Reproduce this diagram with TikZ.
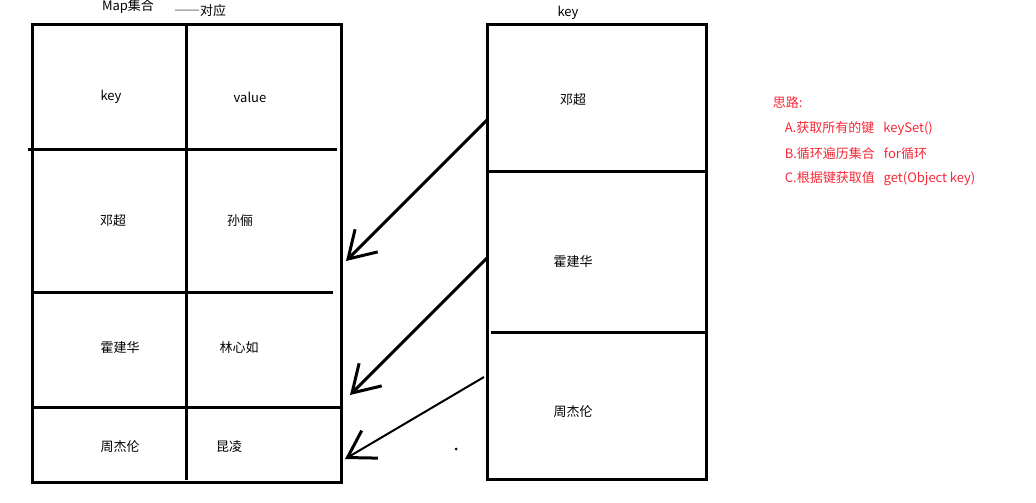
\documentclass[tikz,border=0pt]{standalone}
\usepackage{fontspec}
\setmainfont{Noto Sans CJK SC}
\newfontfamily\fullwidth[RawFeature=+fwid]{Noto Sans CJK SC}
\usepackage{tikz}
\usetikzlibrary{arrows.meta}
\definecolor{notered}{RGB}{245,40,55}

\begin{document}
\begin{tikzpicture}[x=1pt, y=-1pt, line width=3pt,
  cell/.style={font=\fontsize{13}{15}\selectfont},
  note/.style={anchor=west, text=notered, font=\fontsize{13}{15}\selectfont},
  maparrow/.style={-{Straight Barb[length=26pt, width=32pt, line width=3pt]}}]

% one unit = one pixel of the 1036x503 sketch, y runs downwards
\useasboundingbox (0,0) rectangle (1036,503);

%% ── left table: the Map ──────────────────────────────────────────
\draw (32,25) rectangle (341,482);
\draw (186,25) -- (186,480);
\draw (28,149) -- (337,149);
\draw (32,292) -- (333,292);
\draw (32,407) -- (341,407);

\node[cell] (maptitle) at (128,7) {Map集合};
\node[cell] (pairnote) at (200,11) {{\fullwidth ——}对应};

\node[cell] (headkey)   at (111,97)  {key};
\node[cell] (headvalue) at (250,97)  {value};
\node[cell] (mkey1)     at (113,221) {邓超};
\node[cell] (mval1)     at (240,221) {孙俪};
\node[cell] (mkey2)     at (120,348) {霍建华};
\node[cell] (mval2)     at (239,348) {林心如};
\node[cell] (mkey3)     at (120,447) {周杰伦};
\node[cell] (mval3)     at (229,447) {昆凌};

%% ── right table: the key set ─────────────────────────────────────
\draw (487,25) rectangle (706,479);
\draw (487,171) -- (707,171);
\draw (491,332) -- (708,332);

\node[cell] (settitle) at (568,13)  {key};
\node[cell] (skey1)    at (573,100) {邓超};
\node[cell] (skey2)    at (573,262) {霍建华};
\node[cell] (skey3)    at (573,412) {周杰伦};

%% ── arrows: key -> entry ─────────────────────────────────────────
\coordinate (from1) at (487,120);
\coordinate (to1)   at (346,261);
\coordinate (from2) at (487,258);
\coordinate (to2)   at (350,395);
\coordinate (from3) at (484,377);
\coordinate (to3)   at (345,459);

\draw[maparrow] (from1) -- (to1);
\draw[maparrow] (from2) -- (to2);
\draw[line width=2pt, maparrow] (from3) -- (to3);

\fill (456,449) circle (1.5);

%% ── notes ────────────────────────────────────────────────────────
\node[note] (idea)  at (768,103) {思路:};
\node[note] (stepa) at (780,129) {A.获取所有的键\hspace{9pt}keySet()};
\node[note] (stepb) at (780,154) {B.循环遍历集合\hspace{9pt}for循环};
\node[note] (stepc) at (780,179) {C.根据键获取值\hspace{9pt}get(Object key)};

\end{tikzpicture}
\end{document}
